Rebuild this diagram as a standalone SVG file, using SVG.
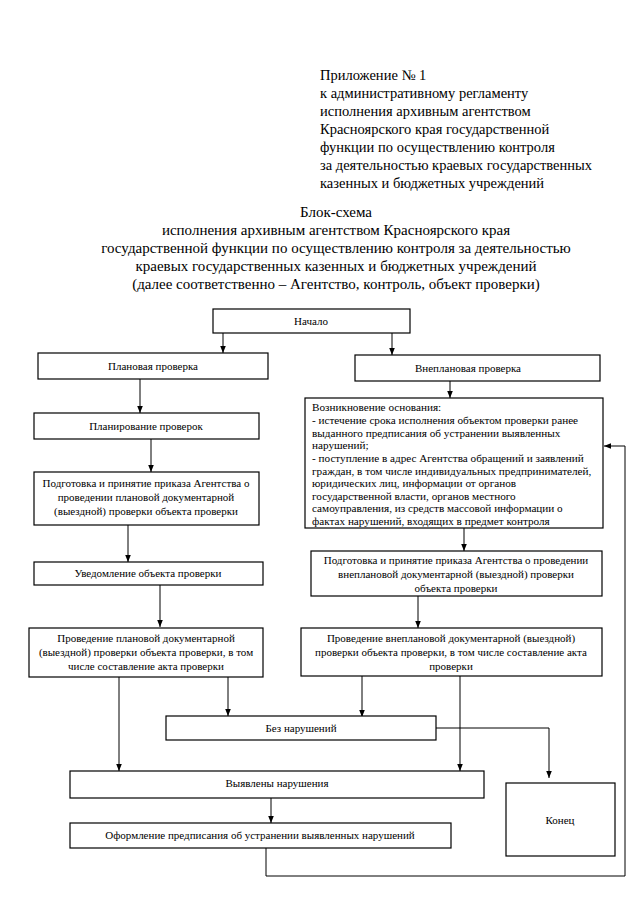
<svg xmlns="http://www.w3.org/2000/svg" width="640" height="905" viewBox="0 0 640 905">
<defs>
<marker id="ah" viewBox="0 0 10 10" refX="10" refY="5" markerWidth="7" markerHeight="7" markerUnits="userSpaceOnUse" orient="auto">
<path d="M0,1 L10,5 L0,9 z" fill="#000"/>
</marker>
</defs>
<style>
.hd{font-family:"Liberation Serif","Times New Roman",serif;font-size:14.5px;fill:#000}
.tt{font-family:"Liberation Serif","Times New Roman",serif;font-size:15px;fill:#000;text-anchor:middle}
.bx{fill:#fff;stroke:#000;stroke-width:1.2}
.t{font-family:"Liberation Serif","Times New Roman",serif;font-size:11px;fill:#000;text-anchor:middle}
.tl{font-family:"Liberation Serif","Times New Roman",serif;font-size:11.2px;fill:#000}
.c{fill:none;stroke:#000;stroke-width:1}
.a{fill:none;stroke:#000;stroke-width:1;marker-end:url(#ah)}
</style>
<rect width="640" height="905" fill="#fff"/>
<g id="header">
<text class="hd" x="320" y="80">Приложение № 1</text>
<text class="hd" x="320" y="98">к административному регламенту</text>
<text class="hd" x="320" y="116">исполнения архивным агентством</text>
<text class="hd" x="320" y="134">Красноярского края государственной</text>
<text class="hd" x="320" y="152">функции по осуществлению контроля</text>
<text class="hd" x="320" y="170">за деятельностью краевых государственных</text>
<text class="hd" x="320" y="188">казенных и бюджетных учреждений</text>
</g>
<g id="title">
<text class="tt" x="336" y="217">Блок-схема</text>
<text class="tt" x="336" y="235">исполнения архивным агентством Красноярского края</text>
<text class="tt" x="336" y="253">государственной функции по осуществлению контроля за деятельностью</text>
<text class="tt" x="336" y="271">краевых государственных казенных и бюджетных учреждений</text>
<text class="tt" x="336" y="289">(далее соответственно – Агентство, контроль, объект проверки)</text>
</g>
<g id="connectors">
<path class="a" d="M223,333 V353"/>
<path class="a" d="M392,333 V355"/>
<path class="a" d="M140,379 V413"/>
<path class="a" d="M450,381 V398"/>
<path class="a" d="M151,439 V472"/>
<path class="a" d="M128,525 V562"/>
<path class="a" d="M464,528 V551"/>
<path class="a" d="M160,585 V627"/>
<path class="a" d="M418,596 V628"/>
<path class="a" d="M228,677 V716"/>
<path class="a" d="M362,676 V717"/>
<path class="a" d="M119,677 V771"/>
<path class="a" d="M460,676 V771"/>
<path class="a" d="M436,728 H549 V778"/>
<path class="a" d="M271,798 V823"/>
<path class="a" d="M266,848 V876 H625 V446 H604"/>
</g>
<g id="n-start">
<rect class="bx" x="213" y="309" width="197" height="24"/>
<text class="t" x="311" y="325">Начало</text>
</g>
<g id="n-planned">
<rect class="bx" x="38" y="353" width="230" height="26"/>
<text class="t" x="153" y="370">Плановая проверка</text>
</g>
<g id="n-unplanned">
<rect class="bx" x="355" y="355" width="245" height="26"/>
<text class="t" x="468" y="372">Внеплановая проверка</text>
</g>
<g id="n-planning">
<rect class="bx" x="34" y="413" width="225" height="26"/>
<text class="t" x="146" y="430">Планирование проверок</text>
</g>
<g id="n-order-planned">
<rect class="bx" x="34" y="472" width="225" height="53"/>
<text class="t" x="146" y="487">Подготовка и принятие приказа Агентства о</text>
<text class="t" x="146" y="501">проведении плановой документарной</text>
<text class="t" x="146" y="515">(выездной) проверки объекта проверки</text>
</g>
<g id="n-grounds">
<rect class="bx" x="305" y="398" width="298" height="130"/>
<text class="tl" x="312" y="411">Возникновение основания:</text>
<text class="tl" x="312" y="424">- истечение срока исполнения объектом проверки ранее</text>
<text class="tl" x="312" y="437">выданного предписания об устранении выявленных</text>
<text class="tl" x="312" y="449">нарушений;</text>
<text class="tl" x="312" y="462">- поступление в адрес Агентства обращений и заявлений</text>
<text class="tl" x="312" y="475">граждан, в том числе индивидуальных предпринимателей,</text>
<text class="tl" x="312" y="487">юридических лиц, информации от органов</text>
<text class="tl" x="312" y="500">государственной власти, органов местного</text>
<text class="tl" x="312" y="512">самоуправления, из средств массовой информации о</text>
<text class="tl" x="312" y="525">фактах нарушений, входящих в предмет контроля</text>
</g>
<g id="n-notify">
<rect class="bx" x="34" y="562" width="229" height="23"/>
<text class="t" x="148" y="577">Уведомление объекта проверки</text>
</g>
<g id="n-order-unplanned">
<rect class="bx" x="311" y="551" width="291" height="45"/>
<text class="t" x="456" y="564">Подготовка и принятие приказа Агентства о проведении</text>
<text class="t" x="456" y="578">внеплановой документарной (выездной) проверки</text>
<text class="t" x="456" y="592">объекта проверки</text>
</g>
<g id="n-conduct-planned">
<rect class="bx" x="29" y="628" width="234" height="49"/>
<text class="t" x="146" y="642">Проведение плановой документарной</text>
<text class="t" x="146" y="656">(выездной) проверки объекта проверки, в том</text>
<text class="t" x="146" y="670">числе составление акта проверки</text>
</g>
<g id="n-conduct-unplanned">
<rect class="bx" x="301" y="628" width="301" height="48"/>
<text class="t" x="451" y="642">Проведение внеплановой документарной (выездной)</text>
<text class="t" x="451" y="656">проверки объекта проверки, в том числе составление акта</text>
<text class="t" x="451" y="670">проверки</text>
</g>
<g id="n-no-violations">
<rect class="bx" x="166" y="716" width="270" height="24"/>
<text class="t" x="301" y="732">Без нарушений</text>
</g>
<g id="n-violations">
<rect class="bx" x="70" y="771" width="414" height="27"/>
<text class="t" x="277" y="787">Выявлены нарушения</text>
</g>
<g id="n-prescription">
<rect class="bx" x="70" y="823" width="381" height="25"/>
<text class="t" x="260" y="839">Оформление предписания об устранении выявленных нарушений</text>
</g>
<g id="n-end">
<rect class="bx" x="506" y="783" width="109" height="73"/>
<text class="t" x="560" y="824">Конец</text>
</g>
</svg>
